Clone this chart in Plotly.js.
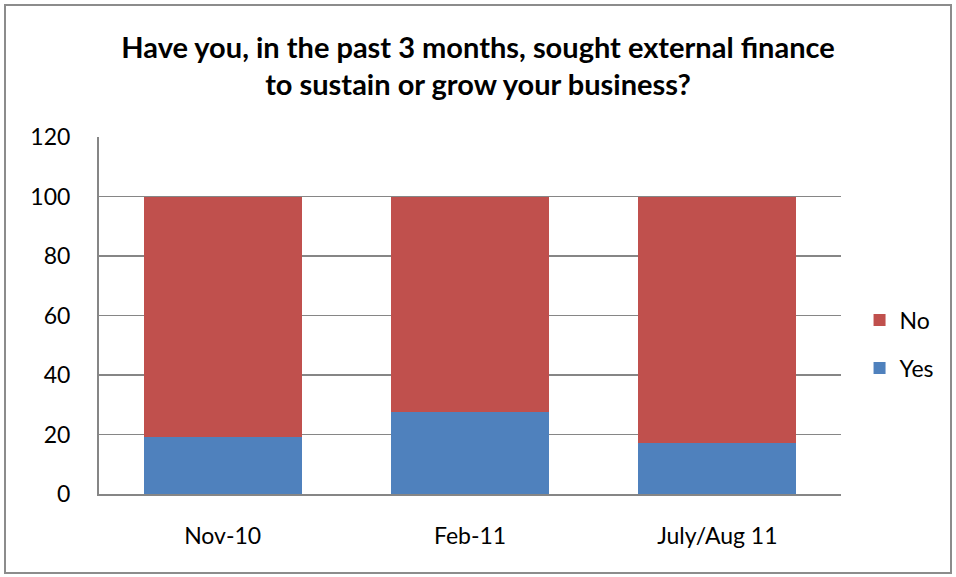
<!DOCTYPE html>
<html>
<head>
<meta charset="utf-8">
<script src="https://cdn.plot.ly/plotly-3.0.1.min.js"></script>
<style>
  html, body { margin: 0; padding: 0; background: #fff; }
  #frame { position: absolute; left: 4px; top: 4px; width: 944px; height: 566px; border: 2px solid #8c8c8c; }
  #chart { position: absolute; left: 0; top: 0; width: 956px; height: 577px; }
</style>
</head>
<body>
<div id="chart"></div>
<div id="frame"></div>
<script>
const categories = ["Nov-10", "Feb-11", "July/Aug 11"];
const yesValues = [19, 27.4, 17];
const noValues = [81, 72.6, 83];
const yTicks = [0, 20, 40, 60, 80, 100, 120];

const fontFam = "Lato, 'Open Sans', sans-serif";

const traces = [
  { type: "bar", name: "Yes", x: categories, y: yesValues, marker: { color: "#4f81bd" }, legendgroup: "yes", legendrank: 2, hoverinfo: "none" },
  { type: "bar", name: "No", x: categories, y: noValues, marker: { color: "#c0504d" }, legendgroup: "no", legendrank: 1, hoverinfo: "none" }
];

const layout = {
  width: 956, height: 577,
  paper_bgcolor: "#fff", plot_bgcolor: "#fff",
  barmode: "stack", bargap: 0.36,
  margin: { l: 99, r: 115, t: 137, b: 83 },
  font: { family: fontFam, color: "#000" },
  title: {
    text: "<b>Have you, in the past 3 months, sought external finance<br>to sustain or grow your business?</b>",
    font: { size: 29, family: fontFam, color: "#000" },
    x: 0.5, xanchor: "center", yref: "container", y: 0.90, yanchor: "middle"
  },
  xaxis: {
    showgrid: false, showline: true, linecolor: "#868686", linewidth: 2,
    tickfont: { size: 23 }, ticks: "outside", ticklen: 20, tickcolor: "rgba(0,0,0,0)"
  },
  yaxis: {
    range: [0, 120], tickvals: yTicks, ticktext: yTicks.map(String),
    showgrid: true, gridcolor: "#868686", gridwidth: 1.5,
    showline: true, linecolor: "#868686", linewidth: 2,
    ticks: "outside", ticklen: 22, tickcolor: "rgba(0,0,0,0)",
    tickfont: { size: 23 }, zeroline: false
  },
  legend: {
    x: 1.025, xanchor: "left", y: 0.42, yanchor: "middle",
    traceorder: "grouped", tracegroupgap: 15,
    font: { size: 23 }
  },
  showlegend: true
};

Plotly.newPlot("chart", traces, layout, { displayModeBar: false, staticPlot: true });
</script>
</body>
</html>
